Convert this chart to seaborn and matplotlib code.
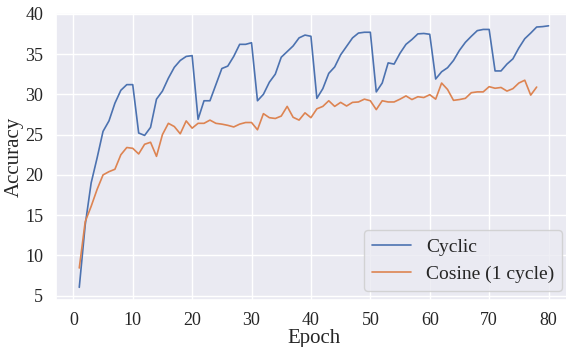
import numpy as np
import pandas as pd
import matplotlib
matplotlib.use("Agg")
import matplotlib.pyplot as plt
import seaborn as sns

# Accuracy per epoch
cyclic = [6.05, 13.8, 19.0, 22.1, 25.4, 26.7, 28.9, 30.5, 31.2, 31.2,
          25.2, 24.9, 25.9, 29.4, 30.4, 32.0, 33.35, 34.2, 34.7, 34.8,
          26.9, 29.2, 29.2, 31.2, 33.2, 33.5, 34.7, 36.2, 36.2, 36.4,
          29.2, 30.0, 31.5, 32.5, 34.6, 35.3, 36.0, 37.0, 37.35, 37.2,
          29.5, 30.7, 32.6, 33.4, 34.9, 35.95, 37.0, 37.6, 37.7, 37.7,
          30.3, 31.4, 33.9, 33.75, 35.1, 36.2, 36.8, 37.5, 37.55, 37.45,
          31.9, 32.8, 33.3, 34.2, 35.45, 36.45, 37.2, 37.9, 38.05, 38.05,
          32.9, 32.9, 33.75, 34.4, 35.75, 36.9, 37.6, 38.35, 38.4, 38.5]

cosine = [8.45, 14.2, 16.1, 18.2, 20.0, 20.4, 20.7, 22.5, 23.4, 23.3,
          22.6, 23.8, 24.05, 22.3, 25.0, 26.4, 26.0, 25.1, 26.7, 25.8,
          26.4, 26.4, 26.8, 26.4, 26.3, 26.15, 25.95, 26.3, 26.5, 26.5,
          25.6, 27.6, 27.1, 27.0, 27.3, 28.5, 27.15, 26.8, 27.7, 27.1,
          28.2, 28.5, 29.2, 28.5, 29.0, 28.55, 29.0, 29.05, 29.4, 29.2,
          28.1, 29.2, 29.05, 29.05, 29.4, 29.8, 29.35, 29.7, 29.6, 29.95,
          29.4, 31.4, 30.6, 29.25, 29.35, 29.5, 30.2, 30.3, 30.3, 30.95,
          30.75, 30.85, 30.4, 30.7, 31.4, 31.75, 29.9, 30.9]

labels = ["Cyclic", "Cosine (1 cycle)"]

df_cyc = pd.DataFrame({"Epoch": np.arange(1, len(cyclic) + 1), "Accuracy": cyclic})
df_cos = pd.DataFrame({"Epoch": np.arange(1, len(cosine) + 1), "Accuracy": cosine})

sns.set_theme(style="darkgrid")
plt.rcParams["font.family"] = ["Liberation Serif", "DejaVu Serif"]

fig = plt.figure(figsize=(5.66, 3.47), dpi=100)
ax = fig.add_axes([0.0986, 0.1343, 0.912, 0.829])

pal = sns.color_palette("deep")
sns.lineplot(data=df_cyc, x="Epoch", y="Accuracy", ax=ax, color=pal[0],
             linewidth=1.2, label=labels[0])
sns.lineplot(data=df_cos, x="Epoch", y="Accuracy", ax=ax, color=pal[1],
             linewidth=1.2, label=labels[1])

ax.set_xticks(range(0, 81, 10))
ax.set_yticks(range(5, 41, 5))
ax.tick_params(axis="x", labelsize=13, pad=2)
ax.tick_params(axis="y", labelsize=13, pad=3)
ax.set_xlabel("Epoch", fontsize=15, labelpad=0)
ax.set_ylabel("Accuracy", fontsize=15, labelpad=1)
ax.legend(loc="lower right", fontsize=14)

fig.savefig("out.png", dpi=100)
